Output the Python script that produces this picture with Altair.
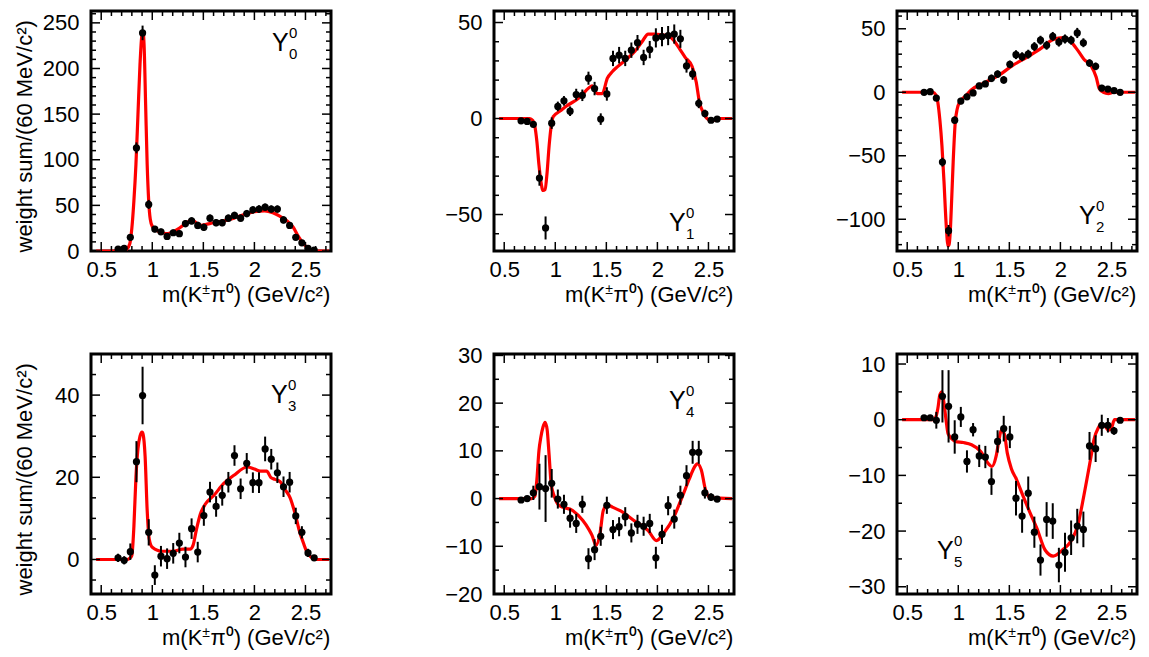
import altair as alt
import pandas as pd
import numpy as np

FONT = "Liberation Sans"

# bin centres (GeV/c^2)
M_BINS = [0.665, 0.725, 0.785, 0.845, 0.905, 0.965, 1.025, 1.085, 1.145, 1.205, 1.265,
          1.325, 1.385, 1.445, 1.505, 1.565, 1.625, 1.685, 1.745, 1.805, 1.865, 1.925,
          1.985, 2.045, 2.105, 2.165, 2.225, 2.285, 2.345, 2.405, 2.465, 2.525, 2.585]

# ---- Y_0^0 ----
Y0_VAL = [2, 3, 15, 113, 239, 51, 24, 21, 16, 20, 19, 30, 33, 28, 26, 36, 31, 31, 36, 39, 36, 41,
          45, 46, 48, 46, 46, 34, 28, 15, 9, 3, 1]
Y0_ERR = [1, 1.5, 3, 6, 8, 5, 3.5, 3.5, 3, 3.5, 3.5, 4, 4, 4, 4, 4, 4, 4, 4, 4, 4, 4,
          4, 4, 4, 4, 4, 4, 3.5, 3, 2.5, 1.5, 1]
Y0_CX = [0.45, 0.70, 0.75, 0.78, 0.80, 0.82, 0.84, 0.86, 0.88, 0.90, 0.91, 0.92, 0.935, 0.95,
         0.965, 0.98, 1.00, 1.05, 1.10, 1.15, 1.20, 1.25, 1.30, 1.35, 1.39, 1.43, 1.47, 1.52,
         1.60, 1.70, 1.80, 1.90, 2.00, 2.10, 2.18, 2.25, 2.32, 2.38, 2.43, 2.48, 2.53, 2.58, 2.73]
Y0_CY = [0, 0, 2, 8, 25, 55, 95, 150, 205, 238, 240, 225, 160, 95, 55, 35, 27, 22, 20, 19, 21,
         24, 28, 32, 34, 31, 28, 29, 31, 33, 36, 40, 43, 44, 42, 38, 33, 26, 16, 8, 3, 0, 0]

# ---- Y_1^0 ----
Y1_VAL = [-1.2, -1.5, -3, -31, -57, -2.4, 6.3, 9.2, 3.8, 12.5, 12.1, 21, 15.6, -0.3, 12.8, 31.3,
          33, 31.3, 35.6, 39.5, 31.8, 35.9, 42, 42.7, 43.2, 44, 41.5, 27.4, 23.2, 7.9, 2.6, -0.9, -0.3]
Y1_ERR = [1, 1, 1.5, 4, 6, 3, 2.5, 2.5, 2.5, 3, 3, 3.4, 3.5, 3, 3.5, 4, 4.3, 4, 4, 4, 4, 4.5,
          5, 5, 5, 5, 4.7, 3.5, 3, 2.5, 2, 1, 1]
Y1_CX = [0.45, 0.75, 0.78, 0.80, 0.82, 0.84, 0.86, 0.88, 0.90, 0.92, 0.94, 0.96, 0.98, 1.05, 1.11,
         1.24, 1.33, 1.36, 1.41, 1.46, 1.51, 1.56, 1.61, 1.70, 1.78, 1.85, 1.91, 1.97, 2.05, 2.11,
         2.17, 2.22, 2.27, 2.34, 2.38, 2.41, 2.46, 2.50, 2.55, 2.60, 2.73]
Y1_CY = [0, 0, -1, -4, -12, -24, -33, -37.5, -37, -28, -14, -4, 1, 4, 6.5, 11, 16, 17, 13, 13, 21,
         24.5, 27, 31, 35, 40, 44, 44, 43.5, 43, 40, 36, 32, 27, 19, 9, 2, -0.5, -1, 0, 0]

# ---- Y_2^0 ----
Y2_VAL = [0, 0.5, -4.6, -55, -109, -22, -6.9, -3.6, -0.5, 5, 6.6, 11, 14.3, 9.7, 22, 29.6, 28,
          30, 36, 41, 37, 44, 39.5, 42, 41, 46.7, 39, 23, 20.4, 3.3, 2.5, 1.3, 0]
Y2_ERR = [1, 1, 1.5, 3.5, 4.5, 3, 2.5, 2.5, 2.5, 2.5, 2.5, 3, 3, 3, 3, 3.5, 3.5, 3.5, 3.5, 3.5,
          3.5, 3.5, 3.5, 3.5, 3.5, 4, 3.5, 3, 3, 2.5, 2, 1.5, 1]
Y2_CX = [0.45, 0.75, 0.78, 0.80, 0.82, 0.84, 0.86, 0.88, 0.90, 0.91, 0.92, 0.935, 0.95, 0.97, 0.99,
         1.02, 1.07, 1.13, 1.27, 1.40, 1.53, 1.67, 1.80, 1.93, 2.03, 2.10, 2.17, 2.23, 2.30, 2.35,
         2.38, 2.42, 2.47, 2.52, 2.73]
Y2_CY = [0, 0, -2, -8, -22, -42, -70, -102, -121, -120, -112, -85, -55, -24, -13, -7, -3, 2, 8,
         13.5, 21, 27.5, 34, 41.5, 43, 40, 33, 26, 21, 12, 3, 0, -1, 0, 0]

# ---- Y_3^0 ----
Y3_VAL = [0.4, -0.2, 1.9, 23.8, 39.9, 6.6, -3.8, 0.8, 0.2, 1.5, 4, 0.6, 7.5, 1.8, 10.7, 16.4,
          12.9, 15.6, 18.8, 25.3, 17.2, 23.4, 18.7, 18.7, 26.9, 24.4, 21.1, 17.7, 18.8, 10.6,
          6.6, 1.6, 0.4]
Y3_ERR = [1, 1, 2, 5, 7, 3.2, 2.4, 2.5, 2.5, 2.5, 2.5, 2.5, 2.5, 2.5, 2.5, 2.5, 2.5, 2.5, 2.5,
          2.5, 2.5, 2.5, 2.5, 2.5, 3, 2.5, 2.5, 2.5, 2.5, 2, 1.5, 1, 0.7]
Y3_CX = [0.45, 0.75, 0.78, 0.80, 0.82, 0.84, 0.86, 0.88, 0.90, 0.91, 0.93, 0.95, 0.97, 1.00, 1.10,
         1.20, 1.30, 1.37, 1.40, 1.43, 1.47, 1.52, 1.60, 1.70, 1.80, 1.93, 2.00, 2.06, 2.12, 2.16,
         2.20, 2.25, 2.30, 2.35, 2.40, 2.44, 2.48, 2.52, 2.56, 2.60, 2.73]
Y3_CY = [0, 0, 0.3, 1, 8, 20, 27, 30, 31, 30.5, 25, 12, 5, 3, 2, 2, 2.5, 2.5, 3.5, 7, 11, 13.5,
         15.5, 18.5, 20.5, 22.5, 22, 21.5, 21.5, 20, 19.5, 19, 17, 15, 11, 7, 4, 1.5, 0.5, 0, 0]

# ---- Y_4^0 ----
Y4_VAL = [-0.3, 0, 1.2, 2.5, 2.1, 3.2, -0.1, -1.2, -4.1, -5.2, -1.2, -12.6, -10.7, -7.9, -1.4,
          -6.5, -5.9, -3.8, -7.2, -5.4, -5.8, -5.2, -12.4, -7.5, -1.5, -4.3, 0.7, 4.8, 9.7, 9.7,
          1.2, 0.3, -0.1]
Y4_ERR = [0.5, 0.5, 1.5, 4.8, 7, 3, 2, 2, 2, 2, 1.8, 2.2, 2.2, 2, 1.8, 2, 2, 2, 2, 2, 2, 2,
          2.3, 2, 2, 2, 2, 2.2, 2.4, 2.4, 1.2, 0.8, 0.5]
Y4_CX = [0.45, 0.77, 0.80, 0.82, 0.84, 0.86, 0.88, 0.90, 0.92, 0.94, 0.96, 0.99, 1.04, 1.17, 1.27,
         1.33, 1.36, 1.40, 1.44, 1.47, 1.51, 1.56, 1.64, 1.77, 1.91, 1.99, 2.07, 2.16, 2.24, 2.31,
         2.36, 2.39, 2.43, 2.47, 2.52, 2.73]
Y4_CY = [0, 0, 0.5, 4, 10, 13, 15, 16, 14.5, 9, 3, 0.5, -1.5, -2.5, -4.6, -6.5, -7.7, -9.8, -7,
         -2.5, -1.3, -1.8, -2.6, -4.6, -6.7, -8.8, -7, -3.9, 0.2, 4, 6.5, 7.3, 6, 1.9, 0.2, 0]

# ---- Y_5^0 ----
Y5_VAL = [0.35, 0.35, -0.1, 4.2, 2.4, -3.1, 0.5, -7.5, -1.8, -6.5, -6.7, -11.1, -3.9, -1.6, -3.1,
          -14.1, -17.3, -13.2, -20.2, -25.2, -17.9, -18.2, -26.1, -23.8, -21.2, -19.1, -19.7,
          -4.7, -5.2, -1, -1, -2, -0.1]
Y5_ERR = [0.5, 0.5, 1.5, 4.7, 6.5, 3, 1.8, 2, 1.2, 2, 2, 2.4, 2, 2.3, 2, 3.1, 3, 3, 2.8, 2.8,
          3.1, 3.2, 3.1, 3.5, 3.1, 3.1, 3.2, 2.5, 2.4, 1.9, 1.3, 0.7, 0.5]
Y5_CX = [0.45, 0.75, 0.78, 0.80, 0.82, 0.84, 0.86, 0.88, 0.90, 0.94, 0.97, 1.05, 1.13, 1.22, 1.30,
         1.33, 1.37, 1.40, 1.42, 1.45, 1.48, 1.52, 1.57, 1.63, 1.70, 1.77, 1.85, 1.93, 2.02, 2.10,
         2.17, 2.23, 2.30, 2.33, 2.37, 2.40, 2.44, 2.47, 2.50, 2.53, 2.73]
Y5_CY = [0, 0, 0.5, 2, 4.5, 5, 3, 0, -2.5, -3.5, -3.9, -4.1, -4.5, -5.7, -8, -8.4, -6.6, -3.5,
         -1.9, -2.5, -6, -8.8, -10.7, -13.5, -16.6, -19.5, -23.4, -24.5, -23.4, -21.9, -19, -13.6,
         -6.6, -3.5, -1.5, -0.8, -1.2, -1.9, -1.5, 0, 0]

X_LABELS = [0.5, 1.0, 1.5, 2.0, 2.5]
X_DOMAIN = [0.4, 2.75]
# x-axis title pieces: (text, font size, raised)
X_TITLE = [("m(K", 22, False), ("\u00b1", 14, True), ("\u03c0\u2070) (GeV/c\u00b2)", 22, False)]
Y_TITLE = "weight sum/(60 MeV/c\u00b2)"

PANELS = [
    dict(l="0", val=Y0_VAL, err=Y0_ERR, cx=Y0_CX, cy=Y0_CY, dom=[0, 263],
         ylab=[0, 50, 100, 150, 200, 250], minor=10, lpos=(181, 40), ytitle=True),
    dict(l="1", val=Y1_VAL, err=Y1_ERR, cx=Y1_CX, cy=Y1_CY, dom=[-69, 56],
         ylab=[-50, 0, 50], minor=10, lpos=(175, 220), ytitle=False),
    dict(l="2", val=Y2_VAL, err=Y2_ERR, cx=Y2_CX, cy=Y2_CY, dom=[-125, 64],
         ylab=[-100, -50, 0, 50], minor=10, lpos=(182, 213), ytitle=False),
    dict(l="3", val=Y3_VAL, err=Y3_ERR, cx=Y3_CX, cy=Y3_CY, dom=[-8.4, 50],
         ylab=[0, 20, 40], minor=5, lpos=(180, 49), ytitle=True),
    dict(l="4", val=Y4_VAL, err=Y4_ERR, cx=Y4_CX, cy=Y4_CY, dom=[-20, 30.3],
         ylab=[-20, -10, 0, 10, 20, 30], minor=5, lpos=(175, 55), ytitle=False),
    dict(l="5", val=Y5_VAL, err=Y5_ERR, cx=Y5_CX, cy=Y5_CY, dom=[-31.3, 11.8],
         ylab=[-30, -20, -10, 0, 10], minor=5, lpos=(40, 205), ytitle=False),
]

W, H = 240, 240
MAJ, MIN = 9, 5
XT_LEFT, XT_BASE, XT_RAISE = 71, 51, 8
# approximate advance widths (px) of the leading title pieces
PIECE_W = [1.833 * 22, 0.584 * 14]


def tick_values(lo, hi, step, majors):
    vals = np.round(np.arange(np.ceil(lo / step - 1e-9) * step, hi + 1e-9, step), 6)
    major = [v for v in vals if any(abs(v - m) < 1e-6 for m in majors)]
    minor = [v for v in vals if not any(abs(v - m) < 1e-6 for m in majors)]
    return major, minor


def text_layer(txt, x, y, size):
    return alt.Chart(pd.DataFrame({"a": [0]})).mark_text(
        text=txt, font=FONT, fontSize=size, align="left", baseline="alphabetic",
        color="black").encode(x=alt.value(x), y=alt.value(y))


def panel(p):
    xs = alt.Scale(domain=X_DOMAIN, nice=False, zero=False)
    ys = alt.Scale(domain=p["dom"], nice=False, zero=False)
    pts = pd.DataFrame({
        "m": M_BINS, "w": p["val"],
        "lo": [v - e for v, e in zip(p["val"], p["err"])],
        "hi": [v + e for v, e in zip(p["val"], p["err"])],
    })
    cur = pd.DataFrame({"m": p["cx"], "w": p["cy"]})

    xaxis = alt.Axis(values=X_LABELS, format="~g", ticks=False, tickSize=0, domain=False,
                     grid=False, labelFontSize=22, labelPadding=8, labelFlush=False, title=None)
    if p["ytitle"]:
        yaxis = alt.Axis(values=p["ylab"], ticks=False, tickSize=0, domain=False, grid=False,
                         labelFontSize=22, labelPadding=12, labelFlush=False,
                         title=Y_TITLE, titleFontSize=22,
                         titleFontWeight="normal", titleAngle=270, titleAlign="left",
                         titleBaseline="alphabetic", titleX=-60, titleY=H + 1)
    else:
        yaxis = alt.Axis(values=p["ylab"], ticks=False, tickSize=0, domain=False, grid=False,
                         labelFontSize=22, labelPadding=12, labelFlush=False, title=None)

    line = alt.Chart(cur).mark_line(color="#ff0000", strokeWidth=3.2, interpolate="monotone",
                                    clip=True).encode(
        x=alt.X("m:Q", scale=xs, axis=xaxis),
        y=alt.Y("w:Q", scale=ys, axis=yaxis),
    )
    bars = alt.Chart(pts).mark_rule(color="black", strokeWidth=2, clip=True).encode(
        x=alt.X("m:Q", scale=xs, axis=xaxis),
        y=alt.Y("lo:Q", scale=ys, axis=yaxis),
        y2="hi:Q",
    )
    dots = alt.Chart(pts).mark_circle(color="black", size=52, opacity=1, clip=True).encode(
        x=alt.X("m:Q", scale=xs, axis=xaxis),
        y=alt.Y("w:Q", scale=ys, axis=yaxis),
    )
    layers = [line, bars, dots]

    xmaj, xmin = tick_values(0.4, 2.75, 0.1, X_LABELS)
    ymaj, ymin = tick_values(p["dom"][0], p["dom"][1], p["minor"], p["ylab"])
    for vals, ln in ((xmaj, MAJ), (xmin, MIN)):
        df = pd.DataFrame({"t": vals})
        for y0, y1 in ((H, H - ln), (0, ln)):
            layers.append(alt.Chart(df).mark_rule(color="black", strokeWidth=1.5).encode(
                x=alt.X("t:Q", scale=xs, axis=xaxis), y=alt.value(y0), y2=alt.value(y1)))
    for vals, ln in ((ymaj, MAJ), (ymin, MIN)):
        df = pd.DataFrame({"t": vals})
        for x0, x1 in ((0, ln), (W, W - ln)):
            layers.append(alt.Chart(df).mark_rule(color="black", strokeWidth=1.5).encode(
                y=alt.Y("t:Q", scale=ys, axis=yaxis), x=alt.value(x0), x2=alt.value(x1)))

    # x-axis title, built from pieces so that the charge sign is a superscript
    xpos = XT_LEFT
    for i, (txt, size, raised) in enumerate(X_TITLE):
        layers.append(text_layer(txt, xpos, H + XT_BASE - (XT_RAISE if raised else 0), size))
        if i < len(PIECE_W):
            xpos += PIECE_W[i]

    # Y_l^0 label
    lx, ly = p["lpos"]
    layers.append(text_layer("Y", lx, ly, 25))
    layers.append(text_layer("0", lx + 17, ly - 13, 15))
    layers.append(text_layer(p["l"], lx + 17, ly + 8, 15))

    return alt.layer(*layers).properties(width=W, height=H)


chart = alt.concat(*[panel(p) for p in PANELS], columns=3,
                   spacing={"row": 103, "column": 163}, bounds="flush").properties(
    padding={"left": 3, "top": 0, "right": 0, "bottom": 0}
).configure(font=FONT).configure_view(stroke="black", strokeWidth=3).configure_axis(
    labelFont=FONT, titleFont=FONT, labelColor="black", titleColor="black"
)

chart.save("out.html", embed_options={"renderer": "svg", "actions": False})
